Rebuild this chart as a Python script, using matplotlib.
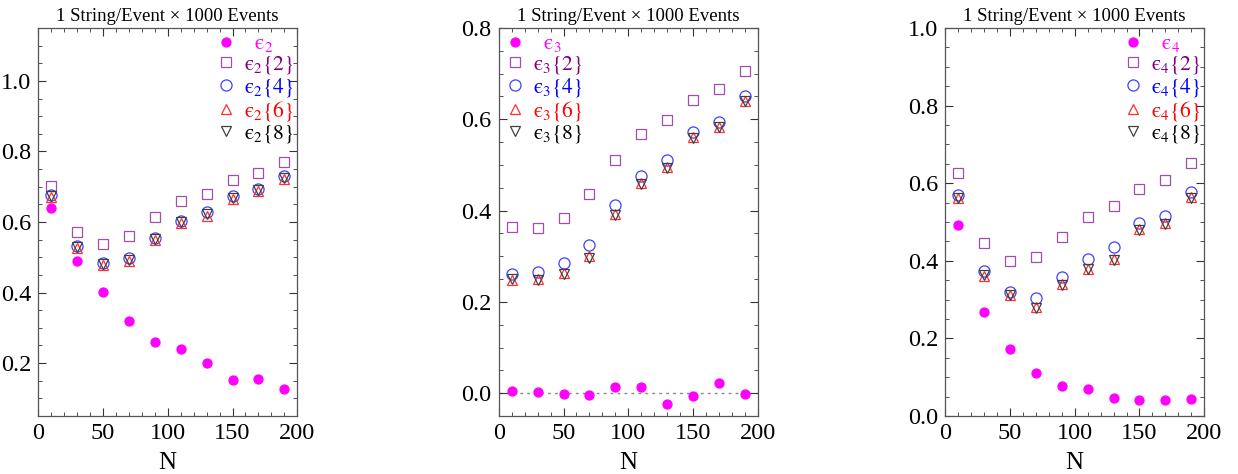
import matplotlib
matplotlib.use("Agg")
import matplotlib.pyplot as plt
from matplotlib.ticker import MultipleLocator

plt.rcParams['font.family'] = ['Liberation Serif', 'DejaVu Serif']
plt.rcParams['mathtext.fontset'] = 'stix'

N = [10, 30, 50, 70, 90, 110, 130, 150, 170, 190]

# epsilon_2
e2 = [0.639, 0.488, 0.401, 0.320, 0.260, 0.240, 0.200, 0.153, 0.155, 0.126]
e2_2 = [0.703, 0.571, 0.537, 0.560, 0.613, 0.659, 0.679, 0.719, 0.738, 0.770]
e2_4 = [0.677, 0.532, 0.484, 0.497, 0.555, 0.603, 0.627, 0.673, 0.694, 0.730]
e2_6 = [0.670, 0.525, 0.477, 0.488, 0.548, 0.597, 0.618, 0.665, 0.687, 0.723]
e2_8 = [0.673, 0.528, 0.480, 0.492, 0.551, 0.600, 0.622, 0.669, 0.690, 0.726]

# epsilon_3
e3 = [0.005, 0.003, -0.001, -0.004, 0.014, 0.014, -0.023, -0.007, 0.023, -0.001]
e3_2 = [0.364, 0.361, 0.384, 0.436, 0.511, 0.568, 0.599, 0.642, 0.666, 0.706]
e3_4 = [0.262, 0.266, 0.285, 0.325, 0.412, 0.476, 0.511, 0.573, 0.594, 0.650]
e3_6 = [0.247, 0.249, 0.263, 0.300, 0.393, 0.460, 0.495, 0.561, 0.582, 0.639]
e3_8 = [0.250, 0.248, 0.261, 0.297, 0.391, 0.458, 0.494, 0.560, 0.582, 0.639]

# epsilon_4
e4 = [0.493, 0.269, 0.173, 0.112, 0.076, 0.070, 0.047, 0.040, 0.042, 0.045]
e4_2 = [0.627, 0.446, 0.400, 0.410, 0.462, 0.513, 0.541, 0.585, 0.609, 0.652]
e4_4 = [0.570, 0.373, 0.320, 0.305, 0.359, 0.405, 0.436, 0.498, 0.516, 0.577]
e4_6 = [0.563, 0.362, 0.312, 0.280, 0.340, 0.380, 0.405, 0.482, 0.497, 0.565]
e4_8 = [0.562, 0.363, 0.311, 0.278, 0.338, 0.378, 0.403, 0.480, 0.495, 0.563]

title = "1 String/Event \u00d7 1000 Events"

# marker style, marker colour, label colour for each series
styles = [
    dict(marker='o', ms=6.5, mfc='#ff00ff', mec='#ff00ff', lc='#ff00ff'),
    dict(marker='s', ms=7, mfc='none', mec='#a050a8', lc='#800080'),
    dict(marker='o', ms=8, mfc='none', mec='#4040ff', lc='#0000ff'),
    dict(marker='^', ms=7, mfc='none', mec='#ff3030', lc='#ff0000'),
    dict(marker='v', ms=7, mfc='none', mec='#404040', lc='#000000'),
]

fig = plt.figure(figsize=(12.38, 4.74), dpi=100)


def panel(left, n, series, ylim, ymajor, legend_loc, anchor):
    ax = fig.add_axes([left, 0.1224, 0.2095, 0.8186])
    labels = [r'$\ \ \mathrm{ϵ}_%d$' % n] + \
             [r'$\mathrm{ϵ}_%d\{%d\}$' % (n, k) for k in (2, 4, 6, 8)]
    for ys, st, lab in zip(series, styles, labels):
        ax.plot(N, ys, linestyle='none', marker=st['marker'], ms=st['ms'],
                mfc=st['mfc'], mec=st['mec'], mew=0.9, label=lab)
    ax.set_xlim(0, 200)
    ax.set_ylim(*ylim)
    ax.xaxis.set_major_locator(MultipleLocator(50))
    ax.xaxis.set_minor_locator(MultipleLocator(10))
    ax.yaxis.set_major_locator(MultipleLocator(ymajor))
    ax.yaxis.set_minor_locator(MultipleLocator(0.05))
    ax.tick_params(which='both', direction='in', top=True, right=True,
                   labelsize=17.5, color='#333333', pad=5)
    ax.tick_params(which='major', length=6, width=0.8)
    ax.tick_params(which='minor', length=3, width=0.6)
    for sp in ax.spines.values():
        sp.set_color('#555555')
        sp.set_linewidth(0.9)
    ax.set_title(title, fontsize=13.5, pad=5)
    ax.set_xlabel('N', fontsize=18, labelpad=6)
    leg = ax.legend(loc=legend_loc, bbox_to_anchor=anchor, frameon=False,
                    fontsize=15.5, handletextpad=0.4, labelspacing=0.0,
                    handlelength=0.9, borderaxespad=0.1, borderpad=0.2)
    for txt, st in zip(leg.get_texts(), styles):
        txt.set_color(st['lc'])
    return ax


panel(0.0307, 2, [e2, e2_2, e2_4, e2_6, e2_8], (0.05, 1.15), 0.2,
      'upper right', (1.012, 1.0))
ax2 = panel(0.4028, 3, [e3, e3_2, e3_4, e3_6, e3_8], (-0.05, 0.8), 0.2,
            'upper left', (0.0, 1.0))
ax2.axhline(0, color='#888888', linestyle=(0, (2, 3)), linewidth=1, zorder=0)
panel(0.7633, 4, [e4, e4_2, e4_4, e4_6, e4_8], (0.0, 1.0), 0.2,
      'upper right', (1.012, 1.0))

fig.savefig('out.png', dpi=100)
